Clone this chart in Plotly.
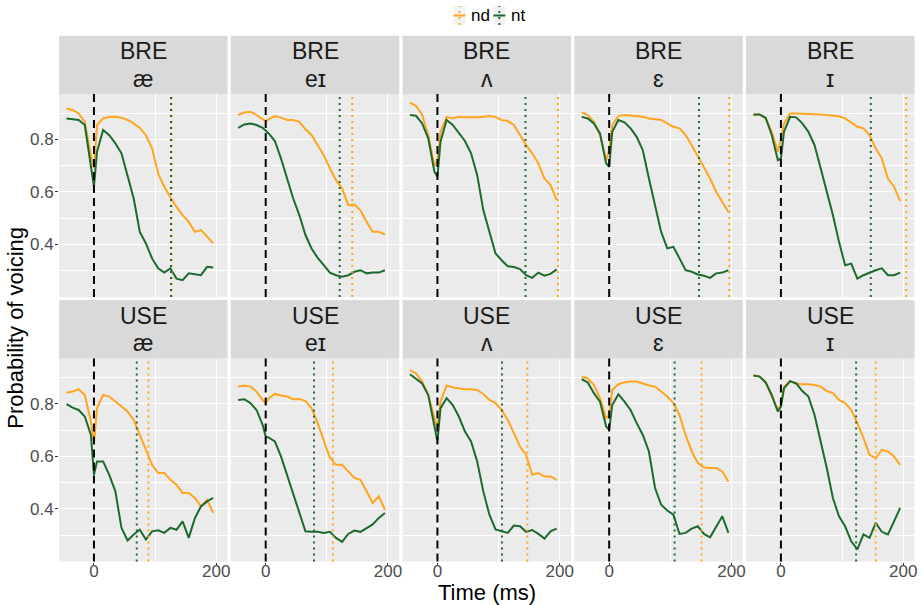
import plotly.graph_objects as go

# ---------------- data ----------------
time_ms = [-45, -35, -25, -15, -5, 0, 5, 15, 25, 35, 45, 55, 65, 75, 85, 95,
           105, 115, 125, 135, 145, 155, 165, 175, 185, 195]

dialects = ["BRE", "BRE", "BRE", "BRE", "BRE", "USE", "USE", "USE", "USE", "USE"]
vowels = ["æ", "eɪ", "ʌ", "ɛ", "ɪ", "æ", "eɪ", "ʌ", "ɛ", "ɪ"]
groups = ["nd", "nt"]

bre_ae_nd = [0.918, 0.912, 0.899, 0.867, 0.74, 0.69, 0.855, 0.88, 0.885, 0.886, 0.883, 0.874, 0.861,
             0.844, 0.816, 0.766, 0.67, 0.62, 0.58, 0.543, 0.512, 0.486, 0.448, 0.455, 0.43, 0.404]
bre_ae_nt = [0.88, 0.876, 0.874, 0.855, 0.70, 0.62, 0.753, 0.836, 0.816, 0.785, 0.747, 0.664, 0.575,
             0.448, 0.404, 0.347, 0.309, 0.293, 0.309, 0.27, 0.264, 0.29, 0.286, 0.283, 0.315, 0.312]
bre_ei_nd = [0.893, 0.903, 0.905, 0.893, 0.877, 0.87, 0.877, 0.889, 0.883, 0.874, 0.874, 0.867, 0.839,
             0.817, 0.778, 0.74, 0.69, 0.645, 0.613, 0.55, 0.552, 0.53, 0.486, 0.448, 0.448, 0.438]
bre_ei_nt = [0.844, 0.857, 0.861, 0.855, 0.844, 0.832, 0.823, 0.794, 0.728, 0.651, 0.575, 0.512, 0.436,
             0.385, 0.349, 0.321, 0.293, 0.283, 0.277, 0.283, 0.296, 0.302, 0.29, 0.293, 0.293, 0.302]
bre_uh_nd = [0.94, 0.928, 0.893, 0.817, 0.70, 0.72, 0.829, 0.886, 0.88, 0.886, 0.884, 0.883, 0.884,
             0.886, 0.889, 0.886, 0.874, 0.87, 0.855, 0.817, 0.778, 0.747, 0.709, 0.651, 0.626, 0.569]
bre_uh_nt = [0.893, 0.89, 0.861, 0.804, 0.677, 0.658, 0.791, 0.874, 0.855, 0.823, 0.794, 0.747, 0.664,
             0.531, 0.448, 0.366, 0.34, 0.317, 0.314, 0.306, 0.283, 0.273, 0.293, 0.281, 0.288, 0.305]
bre_eh_nd = [0.903, 0.893, 0.867, 0.817, 0.72, 0.76, 0.855, 0.889, 0.893, 0.89, 0.889, 0.886, 0.88,
             0.876, 0.874, 0.861, 0.848, 0.842, 0.817, 0.778, 0.734, 0.696, 0.651, 0.601, 0.562, 0.524]
bre_eh_nt = [0.886, 0.88, 0.861, 0.823, 0.709, 0.696, 0.829, 0.874, 0.865, 0.842, 0.81, 0.759, 0.651,
             0.55, 0.448, 0.385, 0.391, 0.347, 0.302, 0.296, 0.286, 0.281, 0.273, 0.29, 0.293, 0.302]
bre_ih_nd = [0.893, 0.895, 0.88, 0.829, 0.753, 0.80, 0.861, 0.899, 0.899, 0.898, 0.897, 0.898, 0.895,
             0.893, 0.89, 0.888, 0.88, 0.865, 0.848, 0.842, 0.817, 0.766, 0.728, 0.651, 0.62, 0.565]
bre_ih_nt = [0.895, 0.895, 0.883, 0.817, 0.721, 0.728, 0.829, 0.886, 0.884, 0.861, 0.829, 0.778, 0.69,
             0.601, 0.512, 0.41, 0.321, 0.327, 0.27, 0.283, 0.293, 0.302, 0.309, 0.283, 0.283, 0.293]

use_ae_nd = [0.843, 0.847, 0.856, 0.834, 0.733, 0.651, 0.784, 0.834, 0.828, 0.809, 0.79, 0.771, 0.739,
             0.682, 0.625, 0.568, 0.537, 0.537, 0.511, 0.492, 0.461, 0.461, 0.442, 0.41, 0.435, 0.385]
use_ae_nt = [0.799, 0.786, 0.777, 0.752, 0.682, 0.53, 0.581, 0.581, 0.53, 0.467, 0.328, 0.28, 0.303,
             0.321, 0.284, 0.315, 0.319, 0.309, 0.328, 0.321, 0.353, 0.29, 0.365, 0.41, 0.429, 0.442]
use_ei_nd = [0.866, 0.87, 0.866, 0.847, 0.815, 0.803, 0.822, 0.838, 0.832, 0.828, 0.818, 0.819, 0.811,
             0.784, 0.727, 0.657, 0.594, 0.568, 0.568, 0.543, 0.518, 0.511, 0.467, 0.423, 0.448, 0.397]
use_ei_nt = [0.815, 0.818, 0.803, 0.777, 0.72, 0.676, 0.672, 0.657, 0.6, 0.53, 0.454, 0.391, 0.315,
             0.313, 0.313, 0.309, 0.313, 0.29, 0.275, 0.305, 0.318, 0.313, 0.328, 0.341, 0.366, 0.385]
use_uh_nd = [0.929, 0.916, 0.885, 0.834, 0.746, 0.708, 0.809, 0.87, 0.863, 0.859, 0.856, 0.856, 0.853,
             0.838, 0.815, 0.803, 0.777, 0.739, 0.689, 0.638, 0.606, 0.53, 0.537, 0.524, 0.524, 0.511]
use_uh_nt = [0.913, 0.895, 0.878, 0.834, 0.708, 0.657, 0.784, 0.822, 0.796, 0.752, 0.695, 0.657, 0.581,
             0.467, 0.378, 0.322, 0.315, 0.309, 0.337, 0.334, 0.313, 0.32, 0.305, 0.287, 0.315, 0.325]
use_eh_nd = [0.904, 0.897, 0.872, 0.822, 0.746, 0.758, 0.853, 0.875, 0.882, 0.885, 0.885, 0.878, 0.87,
             0.866, 0.847, 0.828, 0.803, 0.758, 0.682, 0.619, 0.575, 0.558, 0.556, 0.556, 0.543, 0.505]
use_eh_nt = [0.894, 0.882, 0.841, 0.809, 0.714, 0.701, 0.796, 0.837, 0.809, 0.777, 0.727, 0.682, 0.619,
             0.48, 0.416, 0.394, 0.378, 0.305, 0.309, 0.325, 0.334, 0.305, 0.292, 0.334, 0.372, 0.309]
use_ih_nd = [0.908, 0.906, 0.882, 0.828, 0.777, 0.796, 0.866, 0.887, 0.878, 0.875, 0.875, 0.872, 0.866,
             0.849, 0.841, 0.815, 0.803, 0.777, 0.727, 0.67, 0.606, 0.594, 0.625, 0.619, 0.6, 0.568]
use_ih_nt = [0.908, 0.904, 0.882, 0.834, 0.771, 0.79, 0.859, 0.887, 0.878, 0.849, 0.828, 0.758, 0.657,
             0.556, 0.442, 0.372, 0.334, 0.277, 0.246, 0.303, 0.29, 0.347, 0.313, 0.303, 0.353, 0.404]

nd_series = [bre_ae_nd, bre_ei_nd, bre_uh_nd, bre_eh_nd, bre_ih_nd,
             use_ae_nd, use_ei_nd, use_uh_nd, use_eh_nd, use_ih_nd]
nt_series = [bre_ae_nt, bre_ei_nt, bre_uh_nt, bre_eh_nt, bre_ih_nt,
             use_ae_nt, use_ei_nt, use_uh_nt, use_eh_nt, use_ih_nt]

onset_ms = 0
nd_offset_ms = [127, 141.5, 197, 196.5, 205, 89, 110, 147, 151, 155]
nt_offset_ms = [126, 121, 144, 147, 147, 70, 79, 105.5, 107, 123]

x_ticks = [0, 200]
x_minor = [100]
y_ticks = [0.4, 0.6, 0.8]
y_tick_labels = ["0.4", "0.6", "0.8"]
y_minor = [0.3, 0.5, 0.7, 0.9]

# ---------------- style ----------------
W, H = 924, 605
COLORS = {"nd": "#FFA51F", "nt": "#1C6A2E"}
FONT = "Liberation Sans, Arial, Helvetica, sans-serif"
PANEL_BG = "#EBEBEB"
STRIP_BG = "#D9D9D9"

col_left0 = 59.3
col_step = 172.3
col_w = 169.0
rows_px = [(94.0, 297.0), (358.5, 561.5)]     # plot area top/bottom
strips_px = [(35.7, 94.0), (300.0, 358.5)]    # strip top/bottom


def px_x(p):
    return p / W


def px_y(p):
    return 1 - p / H


fig = go.Figure()
layout = dict(
    width=W, height=H,
    margin=dict(l=0, r=0, t=0, b=0),
    paper_bgcolor="white",
    plot_bgcolor=PANEL_BG,
    showlegend=False,
    font=dict(family=FONT, color="#1A1A1A"),
)
shapes = []
annotations = []

for i in range(10):
    r, c = divmod(i, 5)
    idx = "" if i == 0 else str(i + 1)
    xa, ya = "x" + idx, "y" + idx
    x0 = col_left0 + c * col_step
    x1 = x0 + col_w
    top, bot = rows_px[r]

    layout["xaxis" + idx] = dict(
        domain=[px_x(x0), px_x(x1)], anchor=ya, range=[-57, 218.5],
        tickvals=x_ticks, showticklabels=(r == 1),
        ticks="outside" if r == 1 else "", ticklen=3, tickcolor="#333333", tickwidth=1,
        ticklabelstandoff=-9,
        tickfont=dict(size=17, color="#4D4D4D", family=FONT),
        showgrid=True, gridcolor="white", gridwidth=1.2,
        minor=dict(tickvals=x_minor, showgrid=True, gridcolor="white", gridwidth=0.6),
        zeroline=False, showline=False, fixedrange=True,
    )
    layout["yaxis" + idx] = dict(
        domain=[px_y(bot), px_y(top)], anchor=xa, range=[0.2, 0.973],
        tickvals=y_ticks, ticktext=y_tick_labels, showticklabels=(c == 0),
        ticks="outside" if c == 0 else "", ticklen=3, tickcolor="#333333", tickwidth=1,
        ticklabelstandoff=-2,
        tickfont=dict(size=17, color="#4D4D4D", family=FONT),
        showgrid=True, gridcolor="white", gridwidth=1.2,
        minor=dict(tickvals=y_minor, showgrid=True, gridcolor="white", gridwidth=0.6),
        zeroline=False, showline=False, fixedrange=True,
    )

    for g, series in (("nd", nd_series[i]), ("nt", nt_series[i])):
        fig.add_trace(go.Scatter(
            x=time_ms, y=series, mode="lines", name=g,
            line=dict(color=COLORS[g], width=2),
            xaxis=xa, yaxis=ya, showlegend=False, hoverinfo="skip",
        ))

    # vertical reference lines
    shapes.append(dict(type="line", xref=xa, yref=ya + " domain", x0=onset_ms, x1=onset_ms,
                       y0=0, y1=1, line=dict(color="black", width=2, dash="8px,5px"), layer="above"))
    shapes.append(dict(type="line", xref=xa, yref=ya + " domain", x0=nd_offset_ms[i], x1=nd_offset_ms[i],
                       y0=0, y1=1, line=dict(color=COLORS["nd"], width=2, dash="2px,4px"), layer="above"))
    shapes.append(dict(type="line", xref=xa, yref=ya + " domain", x0=nt_offset_ms[i], x1=nt_offset_ms[i],
                       y0=0, y1=1, line=dict(color=COLORS["nt"], width=2, dash="2px,4px"), layer="above"))

    # strip
    st, sb = strips_px[r]
    shapes.append(dict(type="rect", xref="paper", yref="paper", x0=px_x(x0), x1=px_x(x1),
                       y0=px_y(sb), y1=px_y(st), fillcolor=STRIP_BG, line=dict(width=0), layer="below"))
    cx = px_x((x0 + x1) / 2)
    annotations.append(dict(text=dialects[i], x=cx, y=px_y(st + 15.5), xref="paper", yref="paper",
                            showarrow=False, xanchor="center", yanchor="middle",
                            font=dict(size=23, color="#1A1A1A", family=FONT)))
    annotations.append(dict(text=vowels[i], x=cx, y=px_y(st + 43), xref="paper", yref="paper",
                            showarrow=False, xanchor="center", yanchor="middle",
                            font=dict(size=23, color="#1A1A1A", family=FONT)))

# axis titles
annotations.append(dict(text="Probability of voicing", x=px_x(16), y=px_y((rows_px[0][0] + rows_px[1][1]) / 2),
                        xref="paper", yref="paper", showarrow=False, textangle=-90,
                        xanchor="center", yanchor="middle", font=dict(size=22, color="black", family=FONT)))
annotations.append(dict(text="Time (ms)", x=px_x((col_left0 + col_left0 + 4 * col_step + col_w) / 2),
                        y=px_y(592), xref="paper", yref="paper", showarrow=False,
                        xanchor="center", yanchor="middle", font=dict(size=22, color="black", family=FONT)))

# legend (drawn manually, ggplot-like keys)
legend_keys = [("nd", 455.0, 471.0), ("nt", 495.0, 511.0)]
for g, kx, tx in legend_keys:
    shapes.append(dict(type="rect", xref="paper", yref="paper", x0=px_x(kx), x1=px_x(kx + 12),
                       y0=px_y(25), y1=px_y(6), fillcolor="#F2F2F2", line=dict(width=0)))
    shapes.append(dict(type="line", xref="paper", yref="paper", x0=px_x(kx), x1=px_x(kx + 12),
                       y0=px_y(15.5), y1=px_y(15.5), line=dict(color=COLORS[g], width=2)))
    shapes.append(dict(type="line", xref="paper", yref="paper", x0=px_x(kx + 6), x1=px_x(kx + 6),
                       y0=px_y(25), y1=px_y(6), line=dict(color=COLORS[g], width=2, dash="2px,4px")))
    annotations.append(dict(text=g, x=px_x(tx), y=px_y(15), xref="paper", yref="paper", showarrow=False,
                            xanchor="left", yanchor="middle", font=dict(size=17, color="black", family=FONT)))

layout["shapes"] = shapes
layout["annotations"] = annotations
fig.update_layout(**layout)
fig.write_html("out.html")
